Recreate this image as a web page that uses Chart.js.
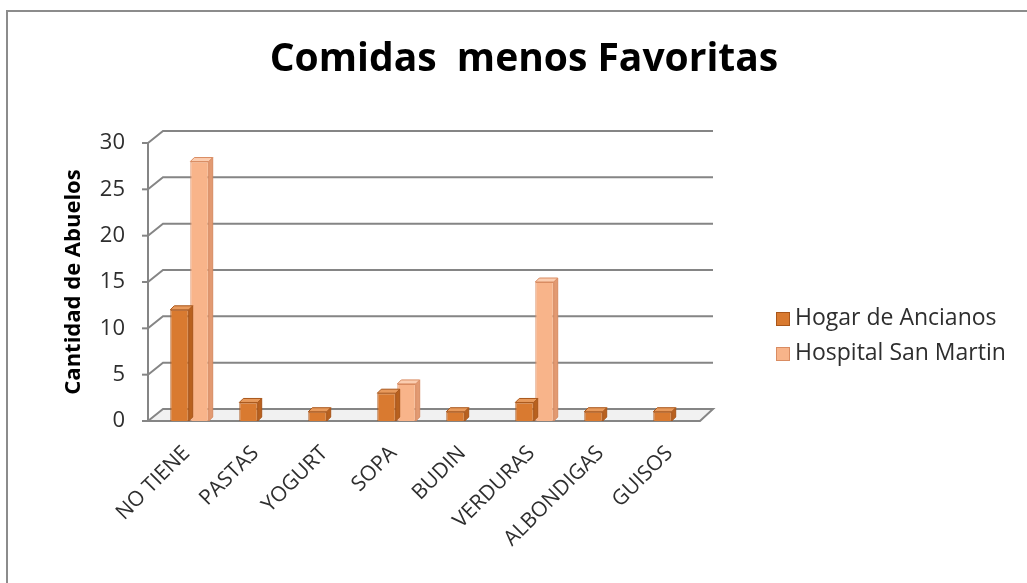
<!DOCTYPE html>
<html>
<head>
<meta charset="utf-8">
<script src="https://cdn.jsdelivr.net/npm/chart.js@4"></script>
<style>
  html, body { margin: 0; padding: 0; background: #fff; }
  #wrap { position: relative; width: 1027px; height: 583px; }
</style>
</head>
<body>
<div id="wrap"><canvas id="c" width="1027" height="583"></canvas></div>
<script>
// ---- data ----
const categories = ['NO TIENE', 'PASTAS', 'YOGURT', 'SOPA', 'BUDIN', 'VERDURAS', 'ALBONDIGAS', 'GUISOS'];
const hogarValues = [12, 2, 1, 3, 1, 2, 1, 1];
const hospitalValues = [28, 0, 0, 4, 0, 15, 0, 0];
const seriesNames = ['Hogar de Ancianos', 'Hospital San Martin'];
const yTicks = [0, 5, 10, 15, 20, 25, 30];
const chartTitle = 'Comidas  menos Favoritas';
const yAxisTitle = 'Cantidad de Abuelos';

// ---- styling ----
const FONT = '"Open Sans", Lato, sans-serif';
const DARK = '#D97A30', DARK_EDGE = '#A9561A', DARK_SIDE = '#B8611F', DARK_TOP = '#E89A5C';
const LIGHT = '#F8B48A', LIGHT_EDGE = '#D98C62', LIGHT_SIDE = '#E29A72', LIGHT_TOP = '#FBCDB0';
const TEXT = '#2e2e2e';
const GRID = '#858585';
const DEPTH_X = 15, DEPTH_Y = 12;   // perspective offset of the back wall
const CAP = 4;                      // depth of the bar tops

// back wall gridlines, floor and front axis
const wallPlugin = {
  id: 'wall',
  beforeDatasetsDraw(chart) {
    const { ctx, chartArea: a, scales: { y } } = chart;
    const axisX = a.left - 7;
    const y0 = y.getPixelForValue(0);
    ctx.save();
    // floor
    ctx.beginPath();
    ctx.moveTo(axisX, y0);
    ctx.lineTo(axisX + DEPTH_X, y0 - DEPTH_Y);
    ctx.lineTo(a.right + 6, y0 - DEPTH_Y);
    ctx.lineTo(a.right - 7, y0);
    ctx.closePath();
    ctx.fillStyle = '#f1f1f1';
    ctx.fill();
    ctx.lineWidth = 2;
    ctx.strokeStyle = GRID;
    ctx.stroke();
    // gridlines on the back wall with the diagonal stub to the front axis
    yTicks.forEach(v => {
      if (v === 0) return;
      const py = y.getPixelForValue(v);
      ctx.beginPath();
      ctx.moveTo(axisX, py);
      ctx.lineTo(axisX + DEPTH_X, py - DEPTH_Y);
      ctx.lineTo(a.right + 6, py - DEPTH_Y);
      ctx.stroke();
    });
    // front vertical axis with tick marks
    ctx.beginPath();
    ctx.moveTo(axisX, y.getPixelForValue(30));
    ctx.lineTo(axisX, y0);
    ctx.stroke();
    yTicks.forEach(v => {
      const py = y.getPixelForValue(v);
      ctx.beginPath();
      ctx.moveTo(axisX - 6, py);
      ctx.lineTo(axisX, py);
      ctx.stroke();
    });
    ctx.restore();
  },
  // 3D caps and side faces on each column
  afterDatasetsDraw(chart) {
    const { ctx } = chart;
    ctx.save();
    chart.data.datasets.forEach((ds, di) => {
      const meta = chart.getDatasetMeta(di);
      const side = di === 0 ? DARK_SIDE : LIGHT_SIDE;
      const top = di === 0 ? DARK_TOP : LIGHT_TOP;
      const edge = di === 0 ? DARK_EDGE : LIGHT_EDGE;
      meta.data.forEach((bar, i) => {
        if (!ds.data[i]) return;
        const p = bar.getProps(['x', 'y', 'base', 'width'], true);
        const l = p.x - p.width / 2, r = p.x + p.width / 2;
        ctx.lineWidth = 1;
        ctx.strokeStyle = edge;
        // right face
        ctx.beginPath();
        ctx.moveTo(r, p.y);
        ctx.lineTo(r + CAP, p.y - CAP);
        ctx.lineTo(r + CAP, p.base - CAP);
        ctx.lineTo(r, p.base);
        ctx.closePath();
        ctx.fillStyle = side;
        ctx.fill();
        ctx.stroke();
        // top face
        ctx.beginPath();
        ctx.moveTo(l, p.y);
        ctx.lineTo(l + CAP, p.y - CAP);
        ctx.lineTo(r + CAP, p.y - CAP);
        ctx.lineTo(r, p.y);
        ctx.closePath();
        ctx.fillStyle = top;
        ctx.fill();
        ctx.stroke();
      });
    });
    ctx.restore();
  },
  // frame, title and legend
  afterDraw(chart) {
    const { ctx } = chart;
    ctx.save();
    ctx.strokeStyle = '#8c8c8c';
    ctx.lineWidth = 2;
    ctx.beginPath();
    ctx.moveTo(7, 600);
    ctx.lineTo(7, 11);
    ctx.lineTo(1040, 11);
    ctx.stroke();

    ctx.fillStyle = '#000';
    ctx.font = 'bold 39px ' + FONT;
    ctx.textAlign = 'center';
    ctx.textBaseline = 'alphabetic';
    ctx.fillText(chartTitle, 524, 71);

    ctx.font = '23px ' + FONT;
    ctx.textAlign = 'left';
    ctx.textBaseline = 'middle';
    const fills = [DARK, LIGHT], edges = [DARK_EDGE, LIGHT_EDGE];
    seriesNames.forEach((name, i) => {
      const cy = 318 + i * 35;
      ctx.fillStyle = fills[i];
      ctx.fillRect(776, cy - 6, 14, 14);
      ctx.strokeStyle = edges[i];
      ctx.lineWidth = 1;
      ctx.strokeRect(776.5, cy - 5.5, 13, 13);
      ctx.fillStyle = TEXT;
      ctx.fillText(name, 795, cy);
    });
    ctx.restore();
  }
};

const zeroless = v => (v ? 1 : 0);

new Chart(document.getElementById('c'), {
  type: 'bar',
  data: {
    labels: categories,
    datasets: [
      {
        label: seriesNames[0],
        data: hogarValues,
        backgroundColor: DARK,
        borderColor: DARK_EDGE,
        borderWidth: ctx => zeroless(ctx.raw),
        borderSkipped: 'bottom'
      },
      {
        label: seriesNames[1],
        data: hospitalValues,
        backgroundColor: LIGHT,
        borderColor: LIGHT_EDGE,
        borderWidth: ctx => zeroless(ctx.raw),
        borderSkipped: 'bottom'
      }
    ]
  },
  options: {
    responsive: false,
    animation: false,
    devicePixelRatio: 1,
    layout: { padding: { left: 25, top: 143, right: 320, bottom: 0 } },
    datasets: { bar: { categoryPercentage: 0.58, barPercentage: 0.92 } },
    plugins: {
      legend: { display: false },
      title: { display: false },
      tooltip: { enabled: false }
    },
    scales: {
      x: {
        grid: { display: false },
        border: { display: false },
        ticks: {
          autoSkip: false,
          minRotation: 45,
          maxRotation: 45,
          labelOffset: -3,
          padding: 12,
          color: TEXT,
          font: { family: FONT, size: 21 }
        },
        afterFit(scale) { scale.height = 162; }
      },
      y: {
        min: 0,
        max: 30,
        grid: { display: false, drawTicks: false },
        border: { display: false },
        afterBuildTicks(scale) { scale.ticks = yTicks.map(v => ({ value: v })); },
        ticks: {
          padding: 30,
          color: TEXT,
          font: { family: FONT, size: 22 }
        },
        title: {
          display: true,
          text: yAxisTitle,
          color: '#000',
          padding: { top: 36, bottom: 0 },
          font: { family: FONT, size: 22, weight: 'bold' }
        },
        afterFit(scale) { scale.width = 130; }
      }
    }
  },
  plugins: [wallPlugin]
});
</script>
</body>
</html>
